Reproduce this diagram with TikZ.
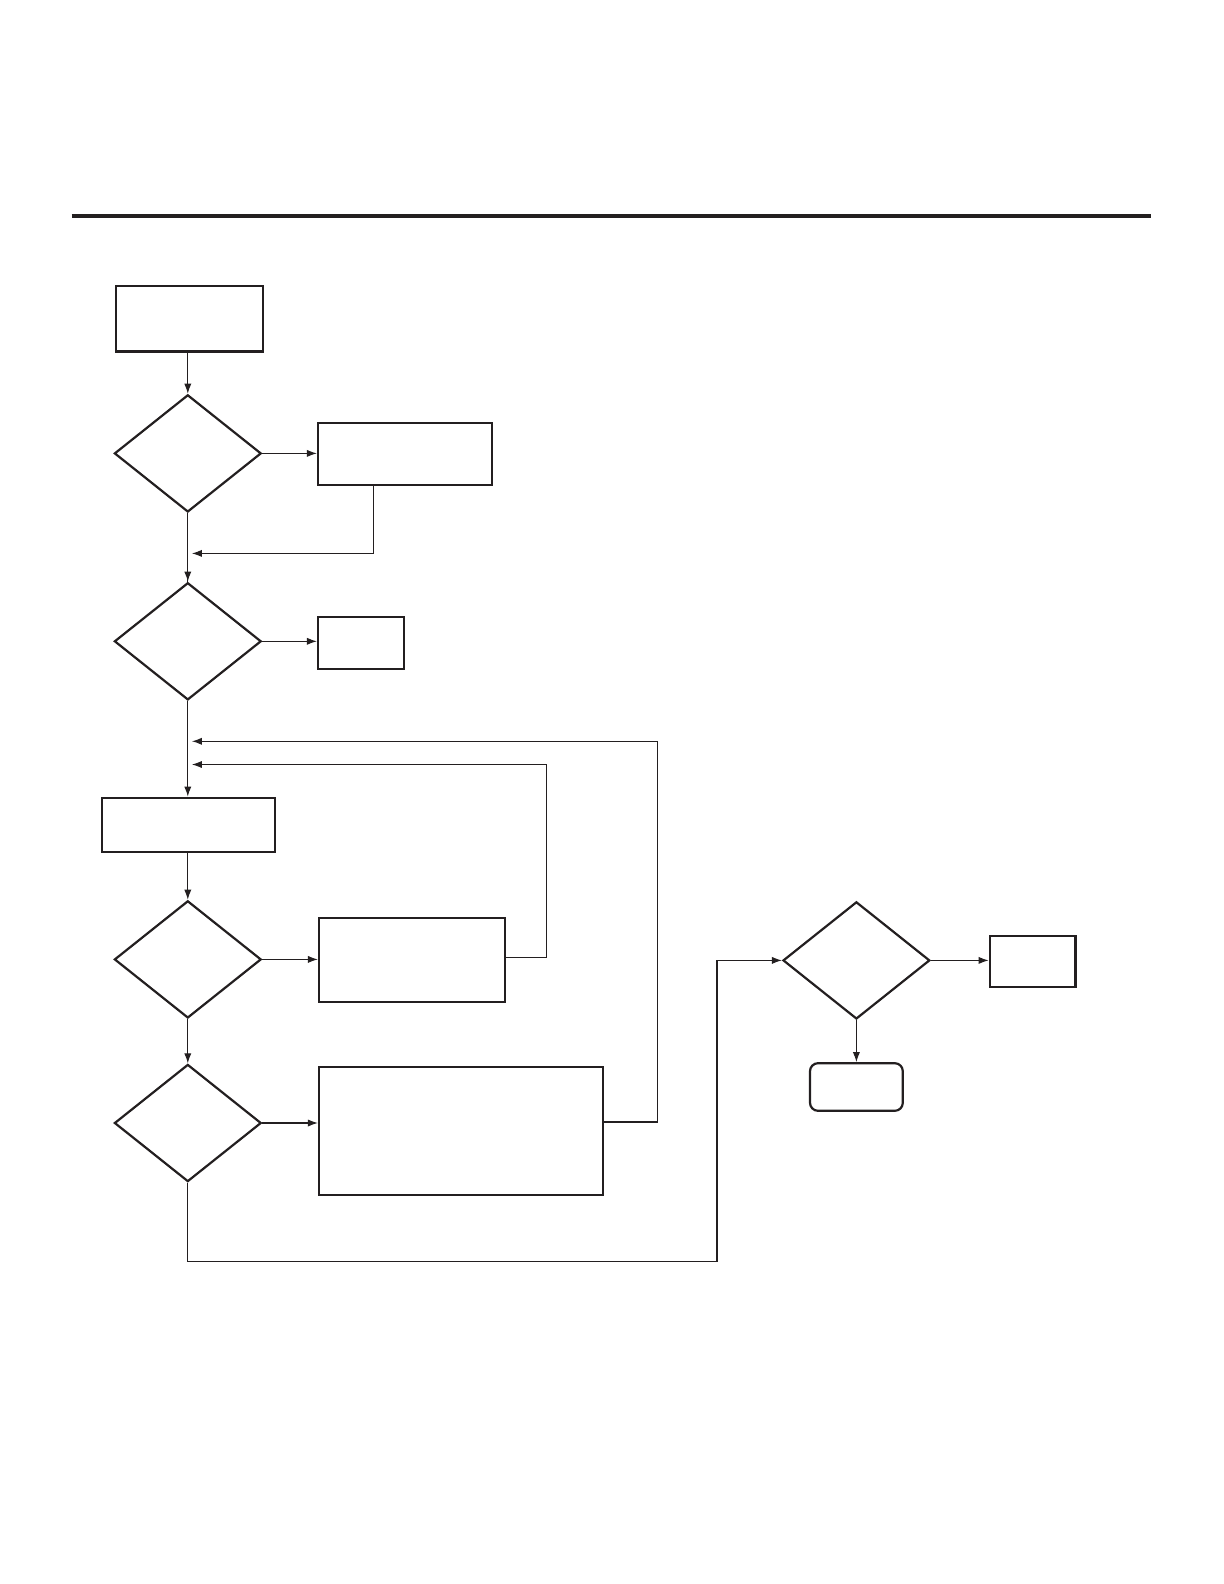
\documentclass[tikz,border=0pt]{standalone}
\usetikzlibrary{shapes.geometric,arrows.meta}
\definecolor{ink}{HTML}{231F20}
\begin{document}
\begin{tikzpicture}[x=0.5pt,y=-0.5pt,
  boxnode/.style={draw=ink, line width=1.1pt, inner sep=0pt, rectangle},
  decnode/.style={draw=ink, line width=1.1pt, inner sep=0pt, diamond, minimum width=73.4pt, minimum height=58.6pt},
  conn/.style={draw=ink, line width=0.55pt},
  arr/.style={conn, -{Latex[length=5pt,width=3.6pt]}}]
\useasboundingbox (0,0) rectangle (1224,1584);
\draw[ink, line width=2pt] (71.7,216) -- (1151,216);
% nodes
\node[boxnode, minimum width=73.3pt, minimum height=32.8pt] (b1) at (189.3,318.6) {};
\node[decnode] (d1) at (187.8,453.4) {};
\node[boxnode, minimum width=86.9pt, minimum height=30.9pt] (b2) at (404.9,453.9) {};
\node[decnode] (d2) at (187.8,641.3) {};
\node[boxnode, minimum width=43pt, minimum height=25.8pt] (b3) at (361,642.8) {};
\node[boxnode, minimum width=86.4pt, minimum height=27.3pt] (b4) at (188.4,825) {};
\node[decnode] (d3) at (187.8,959.4) {};
\node[boxnode, minimum width=93pt, minimum height=42pt] (b5) at (412,960) {};
\node[decnode] (d4) at (187.8,1123) {};
\node[boxnode, minimum width=142pt, minimum height=63.7pt] (b6) at (461,1131) {};
\node[decnode] (d5) at (856.4,960.4) {};
\node[boxnode, minimum width=42.9pt, minimum height=25.4pt] (b7) at (1032.6,961.3) {};
\node[boxnode, rounded corners=4pt, minimum width=46.4pt, minimum height=23.8pt] (b8) at (856.4,1087) {};
% helper coordinates
\coordinate (t1) at (191.9,553.4);
\coordinate (t2) at (191.9,741.3);
\coordinate (t3) at (191.9,764.5);
% connectors
\draw[arr] (d1 |- b1.south) -- (d1.north);
\draw[arr] (d1.east) -- (b2.west |- d1.east);
\draw[conn] (d1.south) -- (d2.north);
\draw[arr] (b2.south -| 373.6,0) -- (373.6,553.4) -- (t1);
\draw[arr] (187.8,530) -- (d2.north);
\draw[arr] (d2.east) -- (b3.west |- d2.east);
\draw[arr] (d2.south) -- (d2 |- b4.north);
\draw[arr] (b6.east |- 0,1122) -- (657.4,1122) -- (657.4,741.3) -- (t2);
\draw[arr] (b5.east |- 0,957.4) -- (546.4,957.4) -- (546.4,764.5) -- (t3);
\draw[arr] (d3 |- b4.south) -- (d3.north);
\draw[arr] (d3.east) -- (b5.west |- d3.east);
\draw[arr] (d3.south) -- (d4.north);
\draw[arr] (d4.east) -- (b6.west |- d4.east);
\draw[arr] (d4.south) -- (187.8,1261.3) -- (717,1261.3) -- (717,960.4) -- (d5.west);
\draw[arr] (d5.east) -- (b7.west |- d5.east);
\draw[arr] (d5.south) -- (b8.north);
\end{tikzpicture}
\end{document}
